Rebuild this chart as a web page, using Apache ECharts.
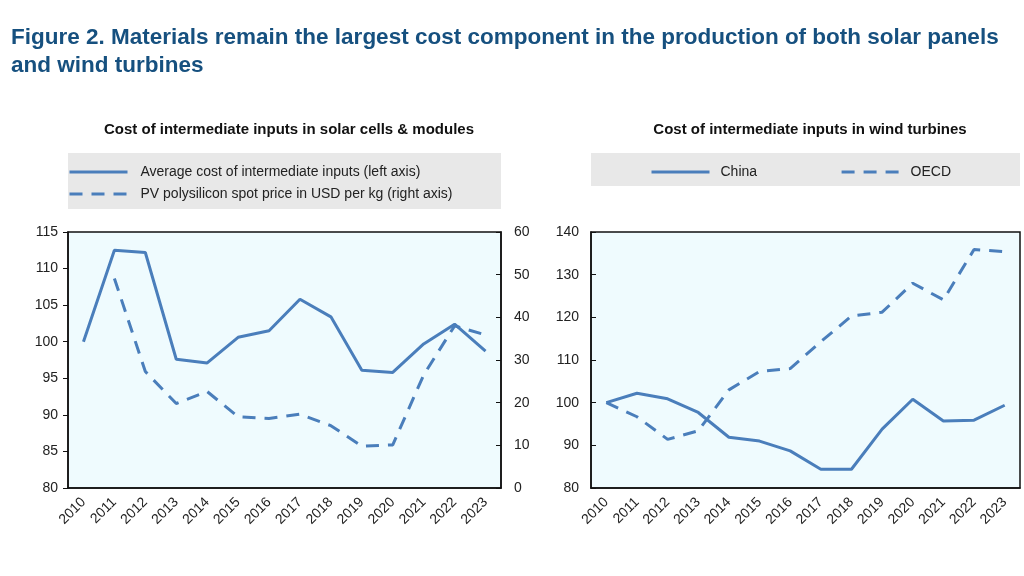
<!DOCTYPE html>
<html>
<head>
<meta charset="utf-8">
<script src="https://cdn.jsdelivr.net/npm/echarts@6/dist/echarts.min.js"></script>
<style>html,body{margin:0;padding:0;background:#fff;}#c{width:1024px;height:576px;}</style>
</head>
<body>
<div id="c"></div>
<script>
const years = ['2010','2011','2012','2013','2014','2015','2016','2017','2018','2019','2020','2021','2022','2023'];
const solarAvgCost = [100.0,112.5,112.2,97.6,97.1,100.6,101.5,105.8,103.4,96.1,95.8,99.7,102.4,98.7];
const polysiliconPrice = [null,49.1,27.3,19.8,22.6,16.7,16.3,17.3,14.6,9.8,10.1,26.5,38.0,35.9];
const windChina = [100.0,102.2,100.9,97.7,91.9,91.0,88.7,84.4,84.4,93.8,100.8,95.7,95.9,99.4];
const windOECD = [100.0,96.7,91.4,93.4,103.0,107.3,108.0,114.3,120.3,121.2,128.0,124.1,135.9,135.4];
const leftTicks = {min:80,max:115,interval:5};
const rightTicks = {min:0,max:60,interval:10};
const windTicks = {min:80,max:140,interval:10};

const blue = '#4a7ebb';
const font = 'Liberation Sans, Arial, sans-serif';
const axisLabel = {color:'#222', fontSize:14, fontFamily:font};
const xLabel = {color:'#222', fontSize:14, fontFamily:font, rotate:45, margin:12, interval:0};
const axisLine = {show:true, lineStyle:{color:'#111', width:1.5}};
const dash = [13,9];

const chart = echarts.init(document.getElementById('c'));
chart.setOption({
  backgroundColor:'#fff',
  animation:false,
  title:[
    {text:'Figure 2. Materials remain the largest cost component in the production of both solar panels\nand wind turbines',
     left:6, top:19,
     textStyle:{color:'#16507f', fontSize:22.5, fontWeight:'bold', fontFamily:'Liberation Sans Narrow, Arial Narrow, Liberation Sans, sans-serif', lineHeight:28}},
    {text:'Cost of intermediate inputs in solar cells & modules', left:284, top:117, textAlign:'center',
     textStyle:{color:'#111', fontSize:15, fontWeight:'bold', fontFamily:font}},
    {text:'Cost of intermediate inputs in wind turbines', left:805, top:117, textAlign:'center',
     textStyle:{color:'#111', fontSize:15, fontWeight:'bold', fontFamily:font}}
  ],
  graphic:[
    {type:'rect', shape:{x:68,y:153,width:433,height:56}, style:{fill:'#e8e8e8'}, z:-1},
    {type:'rect', shape:{x:591,y:153,width:429,height:33}, style:{fill:'#e8e8e8'}, z:-1}
  ],
  legend:[
    {data:['Average cost of intermediate inputs (left axis)','PV polysilicon spot price in USD per kg (right axis)'],
     orient:'vertical', left:68, top:165, itemWidth:58, itemHeight:14, itemGap:8, padding:0,
     lineStyle:{width:3}, itemStyle:{opacity:0, borderWidth:0},
     textStyle:{color:'#222', fontSize:14, fontFamily:font, padding:[0,0,0,8]}},
    {data:['China','OECD'], orient:'horizontal', left:650, top:165, itemWidth:58, itemHeight:14, itemGap:83, padding:0,
     lineStyle:{width:3}, itemStyle:{opacity:0, borderWidth:0},
     textStyle:{color:'#222', fontSize:14, fontFamily:font, padding:[0,0,0,6]}}
  ],
  grid:[
    {left:68, top:232, width:433, height:256, show:true, backgroundColor:'#effbfe', borderColor:'#111', borderWidth:1.5},
    {left:591, top:232, width:429, height:256, show:true, backgroundColor:'#effbfe', borderColor:'#111', borderWidth:1.5}
  ],
  xAxis:[
    {type:'category', gridIndex:0, data:years, boundaryGap:true, axisLine:axisLine,
     axisTick:{inside:true, length:6, lineStyle:{color:'#111'}}, axisLabel:xLabel, splitLine:{show:false}},
    {type:'category', gridIndex:1, data:years, boundaryGap:true, axisLine:axisLine,
     axisTick:{inside:true, length:6, lineStyle:{color:'#111'}}, axisLabel:xLabel, splitLine:{show:false}}
  ],
  yAxis:[
    {type:'value', gridIndex:0, min:leftTicks.min, max:leftTicks.max, interval:leftTicks.interval, position:'left',
     axisLine:axisLine, axisTick:{show:true, length:5, lineStyle:{color:'#111'}}, axisLabel:Object.assign({margin:10},axisLabel), splitLine:{show:false}},
    {type:'value', gridIndex:0, min:rightTicks.min, max:rightTicks.max, interval:rightTicks.interval, position:'right',
     axisLine:axisLine, axisTick:{show:true, inside:true, length:5, lineStyle:{color:'#111'}}, axisLabel:Object.assign({margin:13},axisLabel), splitLine:{show:false}},
    {type:'value', gridIndex:1, min:windTicks.min, max:windTicks.max, interval:windTicks.interval, position:'left',
     axisLine:axisLine, axisTick:{show:true, inside:true, length:5, lineStyle:{color:'#111'}}, axisLabel:Object.assign({margin:12},axisLabel), splitLine:{show:false}}
  ],
  series:[
    {name:'Average cost of intermediate inputs (left axis)', type:'line', xAxisIndex:0, yAxisIndex:0, data:solarAvgCost,
     symbol:'none', lineStyle:{color:blue, width:3}, itemStyle:{color:blue}},
    {name:'PV polysilicon spot price in USD per kg (right axis)', type:'line', xAxisIndex:0, yAxisIndex:1, data:polysiliconPrice,
     symbol:'none', lineStyle:{color:blue, width:3, type:dash}, itemStyle:{color:blue}},
    {name:'China', type:'line', xAxisIndex:1, yAxisIndex:2, data:windChina,
     symbol:'none', lineStyle:{color:blue, width:3}, itemStyle:{color:blue}},
    {name:'OECD', type:'line', xAxisIndex:1, yAxisIndex:2, data:windOECD,
     symbol:'none', lineStyle:{color:blue, width:3, type:dash}, itemStyle:{color:blue}}
  ]
});
</script>
</body>
</html>
